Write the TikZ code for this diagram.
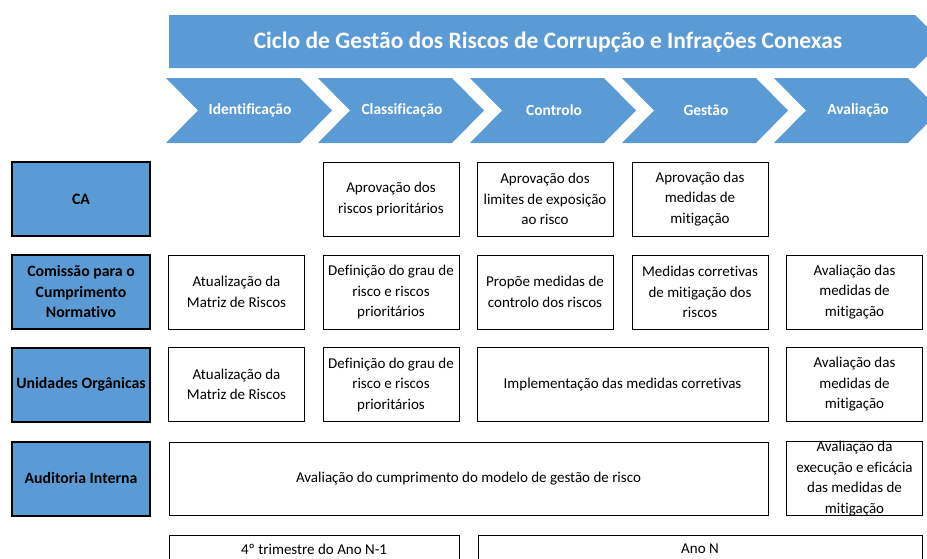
\documentclass[tikz,border=0pt]{standalone}
\usepackage{fontspec}
\setmainfont{Carlito}[Ligatures=NoCommon]
\definecolor{ciclo}{HTML}{5B9BD5}

\begin{document}
\begin{tikzpicture}[x=1pt, y=-1pt,
  every node/.style={font=\fontsize{15}{20.5}\selectfont, align=center, inner sep=0pt},
  cell/.style={draw=black, line width=0.8pt, fill=white, minimum height=74},
  role/.style={draw=black, line width=2pt, fill=ciclo, minimum width=138, minimum height=74,
    font=\fontsize{15.8}{20.5}\selectfont\bfseries},
  stage/.style={text=white, font=\fontsize{15.5}{18}\selectfont\bfseries}]
  \useasboundingbox (0,0) rectangle (927,558);
  \def\wc{136}

  % titulo
  \fill[ciclo] (169,15) -- (915,15) -- (941.5,41.5) -- (915,68) -- (169,68) -- cycle;
  \node[text=white, font=\fontsize{23.5}{26}\selectfont\bfseries] (titulo) at (548,42)
    {Ciclo de Gestão dos Riscos de Corrupção e Infrações Conexas};

  % fases
  \foreach \nome/\rot [count=\i] in {ident/Identificação, classif/Classificação,
      controlo/Controlo, gestao/Gestão, avaliacao/Avaliação} {
    \pgfmathsetmacro{\esq}{166+152*(\i-1)}
    \fill[ciclo] (\esq,78) -- ++(134,0) -- ++(32,32.5) -- ++(-32,32.5) -- ++(-134,0)
      -- ++(32,-32.5) -- cycle;
    \node[stage] (\nome) at (\esq+84,110.5) {\rot};
  }

  % orgaos
  \node[role] (ca) at (81,199) {CA};
  \node[role] (ccn) at (81,292) {Comissão para o\\Cumprimento\\Normativo};
  \node[role] (uo) at (81,384.5) {Unidades Orgânicas};
  \node[role] (ai) at (81,478.5) {Auditoria Interna};

  % CA
  \node[cell, minimum width=\wc] (ca2) at (391,199) {Aprovação dos\\riscos prioritários};
  \node[cell, minimum width=\wc] (ca3) at (545,199) {Aprovação dos\\limites de exposição\\ao risco};
  \node[cell, minimum width=\wc] (ca4) at (700,199) {Aprovação das\\medidas de\\mitigação};

  % CCN
  \node[cell, minimum width=\wc] (ccn1) at (236.5,292) {Atualização da\\Matriz de Riscos};
  \node[cell, minimum width=\wc] (ccn2) at (391,292) {Definição do grau de\\risco e riscos\\prioritários};
  \node[cell, minimum width=\wc] (ccn3) at (545,292) {Propõe medidas de\\controlo dos riscos};
  \node[cell, minimum width=\wc] (ccn4) at (700,292) {Medidas corretivas\\de mitigação dos\\riscos};
  \node[cell, minimum width=\wc] (ccn5) at (854.5,292) {Avaliação das\\medidas de\\mitigação};

  % UO
  \node[cell, minimum width=\wc] (uo1) at (236.5,384.5) {Atualização da\\Matriz de Riscos};
  \node[cell, minimum width=\wc] (uo2) at (391,384.5) {Definição do grau de\\risco e riscos\\prioritários};
  \node[cell, minimum width=291] (uo34) at (622.5,384.5) {Implementação das medidas corretivas};
  \node[cell, minimum width=\wc] (uo5) at (854.5,384.5) {Avaliação das\\medidas de\\mitigação};

  % AI
  \node[cell, minimum width=599, minimum height=73] (ai14) at (468.5,478.5)
    {Avaliação do cumprimento do modelo de gestão de risco};
  \node[cell, minimum width=\wc, minimum height=73] (ai5) at (854.5,478.5)
    {Avaliação da\\execução e eficácia\\das medidas de\\mitigação};

  % periodos
  \node[cell, minimum width=290, minimum height=28] (anoprev) at (314,549) {4º trimestre do Ano N-1};
  \node[cell, minimum width=444, minimum height=28] (anon) at (700,549) {Ano N};
\end{tikzpicture}
\end{document}
